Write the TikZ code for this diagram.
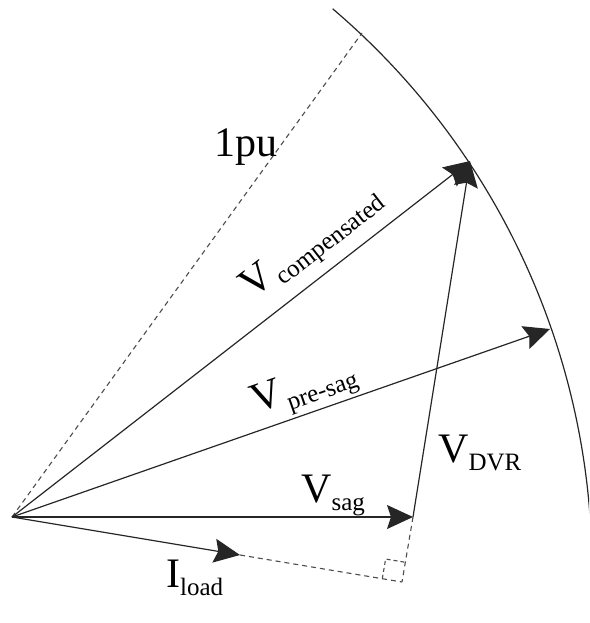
\documentclass[tikz,border=0pt]{standalone}
\usepackage{fontspec}
\setmainfont{Liberation Serif}
\usetikzlibrary{arrows.meta,calc}
\newcommand\vlab[3][0pt]{{\fontsize{42}{42}\selectfont #2}\hspace{#1}\raisebox{-8pt}{\fontsize{25}{25}\selectfont #3}}
\begin{document}
\begin{tikzpicture}[x=1pt,y=-1pt,
  vec/.style={line width=1.2pt,draw=black!85,-{Stealth[length=26pt,width=24pt,inset=4pt]}},
  dashln/.style={line width=1.1pt,draw=black!70,dash pattern=on 5pt off 4pt},
  lbl/.style={inner sep=0pt,anchor=base west}]
\useasboundingbox (0,0) rectangle (589,623);
\clip (0,0) rectangle (589,623);
% points
\coordinate (O) at (12,517);
\coordinate (C) at (-145,570);
\coordinate (P) at (362,33);
\coordinate (Vc) at (470,161);
\coordinate (Vp) at (550,329);
\coordinate (S) at (413,517);
\coordinate (I) at (240,555);
\coordinate (F) at (402,582);
% arc
\draw[line width=1.2pt,black!85] (C) ++(49.6:737pt) arc[start angle=49.6,end angle=-6,radius=737pt];
% 1pu
\draw[dashln] (O) -- (P);
% vectors
\draw[vec] (O) -- (Vc);
\draw[vec] (O) -- (Vp);
\draw[vec] (O) -- (S);
\draw[vec] (S) -- (Vc);
\draw[vec] (O) -- (I);
% projection
\draw[dashln] (I) -- (F);
\draw[dashln] (S) -- (F);
\draw[dashln,dash pattern=on 4pt off 3pt] ($(F)+(-19.7,-3.3)$) coordinate (R1) -- ++(3.3,-19.7) coordinate (R2) -- ++(19.7,3.3);
% labels
\node[lbl] (l1pu) at (214,156) {\fontsize{42}{42}\selectfont 1pu};
\node[lbl,rotate=37.7] (lcomp) at (252,300) {\vlab[3pt]{V}{compensated}};
\node[lbl,rotate=19.3] (lpre) at (256,414) {\vlab[3pt]{V}{pre-sag}};
\node[lbl] (lsag) at (301,502) {\vlab{V}{sag}};
\node[lbl] (ldvr) at (438,462) {\vlab{V}{DVR}};
\node[lbl] (lload) at (166,587) {\vlab{I}{load}};
\end{tikzpicture}
\end{document}
